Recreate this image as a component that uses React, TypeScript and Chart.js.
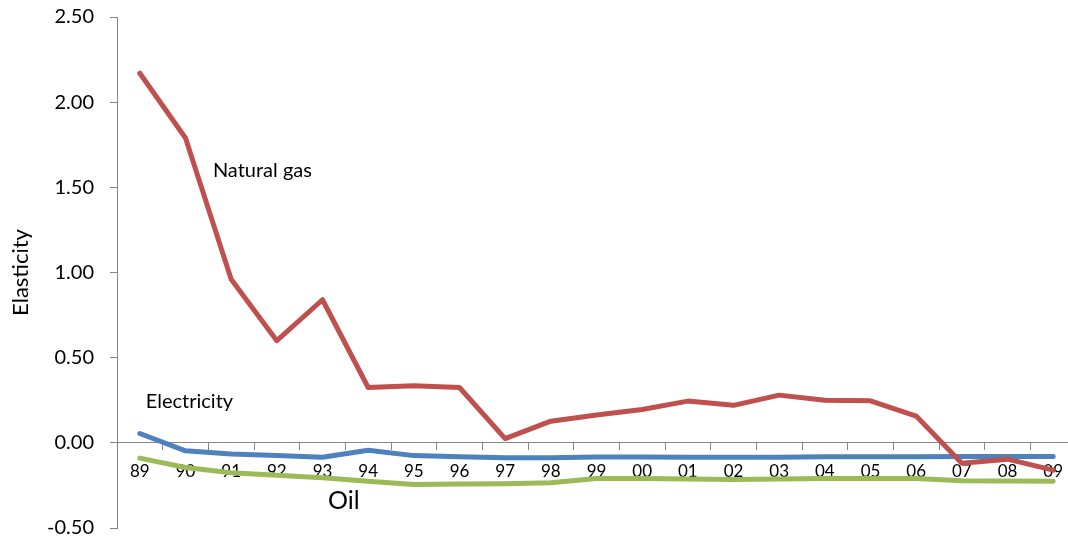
import React, { useEffect, useRef } from "react";
import { Chart, registerables } from "chart.js";

Chart.register(...registerables);

const years = ["89","90","91","92","93","94","95","96","97","98","99","00","01","02","03","04","05","06","07","08","09"];
const naturalGas = [2.17,1.79,0.96,0.60,0.84,0.325,0.335,0.325,0.025,0.127,0.163,0.196,0.245,0.22,0.28,0.25,0.247,0.157,-0.12,-0.096,-0.16];
const electricity = [0.055,-0.047,-0.065,-0.075,-0.085,-0.043,-0.075,-0.082,-0.088,-0.088,-0.083,-0.083,-0.085,-0.085,-0.085,-0.082,-0.082,-0.082,-0.08,-0.08,-0.08];
const oil = [-0.09,-0.145,-0.175,-0.19,-0.205,-0.225,-0.245,-0.242,-0.24,-0.235,-0.21,-0.21,-0.212,-0.215,-0.212,-0.21,-0.21,-0.21,-0.222,-0.224,-0.225];
const yTicks = [-0.5, 0, 0.5, 1.0, 1.5, 2.0, 2.5];

// series labels placed in data coordinates (category index, value)
const seriesLabels = [
  { text: "Natural gas", xIndex: 1.6, y: 1.6, size: 20 },
  { text: "Electricity", xIndex: 0.13, y: 0.24, size: 20 },
  { text: "Oil", xIndex: 4.12, y: -0.34, size: 25 },
];

const FONT = "Lato";
const AXIS = "#868686";

const labelPlugin = {
  id: "seriesLabels",
  afterDatasetsDraw(chart: any) {
    const { ctx, scales } = chart;
    ctx.save();
    ctx.fillStyle = "#000";
    ctx.textAlign = "left";
    ctx.textBaseline = "middle";
    for (const l of seriesLabels) {
      ctx.font = `${l.size}px ${FONT}`;
      ctx.fillText(l.text, scales.x.getPixelForValue(l.xIndex), scales.y.getPixelForValue(l.y));
    }
    ctx.restore();
  },
};

export default function App() {
  const ref = useRef<HTMLCanvasElement | null>(null);
  useEffect(() => {
    if (!ref.current) return;
    const mk = (label: string, data: number[], color: string) => ({
      label,
      data,
      borderColor: color,
      backgroundColor: color,
      borderWidth: 5,
      pointRadius: 0,
      borderCapStyle: "round",
      borderJoinStyle: "round",
      tension: 0,
    });
    const chart = new Chart(ref.current, {
      type: "line",
      data: {
        labels: years,
        datasets: [
          mk("Natural gas", naturalGas, "#C0504D"),
          mk("Electricity", electricity, "#4F81BD"),
          mk("Oil", oil, "#9BBB59"),
        ] as any,
      },
      options: {
        responsive: false,
        animation: false,
        layout: { padding: { left: 0, right: 24, top: 17, bottom: 14 } },
        plugins: { legend: { display: false }, tooltip: { enabled: false } },
        scales: {
          x: {
            type: "category",
            offset: true,
            position: { y: 0 } as any,
            afterFit: (s: any) => { s.height = 0; s.paddingLeft = 0; s.paddingRight = 0; },
            grid: {
              offset: true,
              drawOnChartArea: false,
              drawTicks: true,
              tickLength: 7,
              tickColor: AXIS,
              tickWidth: 1,
            },
            border: { color: AXIS, width: 1 },
            ticks: {
              color: "#000",
              font: { family: FONT, size: 17 },
              padding: 11,
              maxRotation: 0,
              autoSkip: false,
            },
          },
          y: {
            min: -0.5,
            max: 2.5,
            afterFit: (s: any) => { s.width = 117; s.paddingTop = 0; s.paddingBottom = 0; },
            afterBuildTicks: (s: any) => { s.ticks = yTicks.map((v) => ({ value: v })); },
            grid: {
              drawOnChartArea: false,
              drawTicks: true,
              tickLength: 7,
              tickColor: AXIS,
            },
            border: { color: AXIS, width: 1 },
            ticks: {
              color: "#000",
              font: { family: FONT, size: 20 },
              padding: 16,
              callback: (v: any) => Number(v).toFixed(2),
            },
            title: {
              display: true,
              text: "Elasticity",
              color: "#000",
              font: { family: FONT, size: 22 },
              padding: { top: 8, bottom: 0 },
            },
          },
        },
      },
      plugins: [labelPlugin],
    });
    return () => chart.destroy();
  }, []);
  return (
    <div style={{ position: "fixed", left: 0, top: 0, width: 1068, height: 542, overflow: "hidden", background: "#fff" }}>
      <canvas ref={ref} width={1100} height={542} style={{ width: 1100, height: 542 }} />
    </div>
  );
}
